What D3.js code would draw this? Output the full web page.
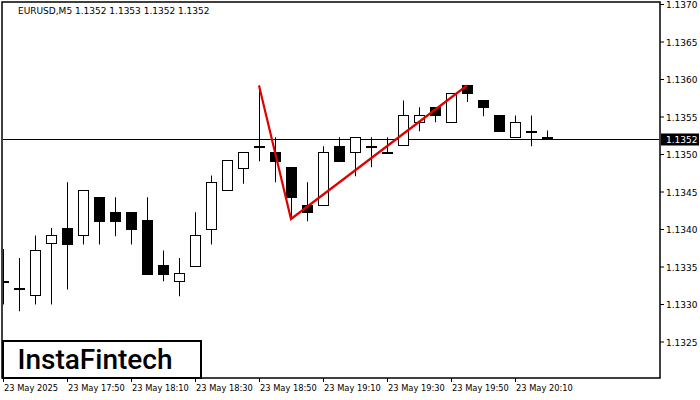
<!DOCTYPE html>
<html>
<head>
<script src="https://d3js.org/d3.v7.min.js"></script>
<style>body{margin:0;background:#fff}</style>
</head>
<body>
<svg id="c" width="700" height="400"></svg>
<script>
// candles: open, high, low, close (M5)
const opens  = [1.13331,1.13322,1.13312,1.13382,1.13402,1.13392,1.13443,1.13423,1.13423,1.13412,1.13352,1.13331,1.13351,1.13400,1.13452,1.13481,1.13511,1.13503,1.13483,1.13432,1.13432,1.13511,1.13503,1.13511,1.13503,1.13512,1.13543,1.13563,1.13543,1.13592,1.13572,1.13552,1.13523,1.13531,1.13523];
const highs  = [1.13374,1.13362,1.13392,1.13402,1.13463,1.13452,1.13443,1.13443,1.13423,1.13443,1.13372,1.13362,1.13423,1.13472,1.13492,1.13503,1.13592,1.13523,1.13483,1.13463,1.13511,1.13523,1.13523,1.13523,1.13523,1.13572,1.13563,1.13563,1.13582,1.13592,1.13572,1.13552,1.13552,1.13552,1.13532];
const lows   = [1.13300,1.13291,1.13300,1.13300,1.13320,1.13380,1.13380,1.13391,1.13380,1.13340,1.13331,1.13311,1.13351,1.13380,1.13452,1.13461,1.13491,1.13463,1.13414,1.13411,1.13432,1.13491,1.13471,1.13483,1.13503,1.13512,1.13531,1.13543,1.13543,1.13570,1.13551,1.13531,1.13523,1.13511,1.13523];
const closes = [1.13331,1.13322,1.13372,1.13392,1.13380,1.13452,1.13411,1.13411,1.13400,1.13340,1.13340,1.13342,1.13392,1.13463,1.13492,1.13503,1.13511,1.13491,1.13443,1.13423,1.13503,1.13491,1.13523,1.13511,1.13503,1.13552,1.13552,1.13552,1.13582,1.13582,1.13563,1.13531,1.13543,1.13531,1.13523];
const timeLabels = ["23 May 2025","23 May 17:50","23 May 18:10","23 May 18:30","23 May 18:50","23 May 19:10","23 May 19:30","23 May 19:50","23 May 20:10"];
const priceTicks = [1.1325,1.1330,1.1335,1.1340,1.1345,1.1350,1.1355,1.1360,1.1365,1.1370];
const lastPrice = 1.1352;
// pattern line: [candle index, price]
const patternIdx = [16, 18, 29];
const patternPx  = [1.13592, 1.13414, 1.13592];

const svg = d3.select("#c");
const font = "DejaVu Sans, Tahoma, sans-serif";
const L = 2, R = 660, T = 2, B = 378;
const x = d3.scaleLinear().domain([0, 34]).range([3, 547]);
const y = d3.scaleLinear().domain([1.1325, 1.1370]).range([342, 4.5]);

svg.append("rect").attr("x", L).attr("y", T).attr("width", R - L).attr("height", B - T)
  .attr("fill", "#fff").attr("stroke", "#000").attr("stroke-width", 1.5);

svg.append("defs").append("clipPath").attr("id", "cp")
  .append("rect").attr("x", L + 1).attr("y", T + 1).attr("width", R - L - 2).attr("height", B - T - 2);
const g = svg.append("g").attr("clip-path", "url(#cp)");

// last price line
const lpY = Math.round(y(lastPrice)) - 0.5;
g.append("line").attr("x1", L).attr("x2", R).attr("y1", lpY).attr("y2", lpY).attr("stroke", "#000");

const idx = d3.range(opens.length);
g.selectAll(".wick").data(idx).join("line")
  .attr("x1", i => x(i) + 0.5).attr("x2", i => x(i) + 0.5)
  .attr("y1", i => y(highs[i])).attr("y2", i => y(lows[i]))
  .attr("stroke", "#000");
g.selectAll(".body").data(idx).join("rect")
  .attr("x", i => x(i) - 5).attr("width", 10)
  .attr("y", i => y(Math.max(opens[i], closes[i])))
  .attr("height", i => Math.max(1, Math.abs(y(opens[i]) - y(closes[i]))))
  .attr("fill", i => closes[i] < opens[i] ? "#000" : "#fff")
  .attr("stroke", "#000").attr("stroke-width", 1)
  .attr("shape-rendering", "crispEdges");

// pattern line
g.append("path")
  .attr("d", d3.line()(patternIdx.map((k, j) => [x(k), y(patternPx[j])])))
  .attr("fill", "none").attr("stroke", "#e00000").attr("stroke-width", 2.2);

// price axis
priceTicks.forEach(p => {
  const yy = y(p);
  svg.append("line").attr("x1", R).attr("x2", R + 4).attr("y1", yy).attr("y2", yy).attr("stroke", "#000");
  svg.append("text").attr("x", R + 6).attr("y", yy + 3.5).text(p.toFixed(4))
    .attr("font-family", font).attr("font-size", 9).attr("fill", "#000");
});
svg.append("rect").attr("x", R + 1).attr("y", lpY - 6).attr("width", 38).attr("height", 12).attr("fill", "#000");
svg.append("text").attr("x", R + 6).attr("y", lpY + 3.5).text(lastPrice.toFixed(4))
  .attr("font-family", font).attr("font-size", 9).attr("fill", "#fff");

// time axis
timeLabels.forEach((t, k) => {
  const xx = x(k * 4);
  svg.append("line").attr("x1", xx + 0.5).attr("x2", xx + 0.5).attr("y1", B).attr("y2", B + 4).attr("stroke", "#000");
  svg.append("text").attr("x", Math.max(xx + 1, 4)).attr("y", B + 13).text(t)
    .attr("font-family", font).attr("font-size", 8.3).attr("fill", "#000");
});

// title
svg.append("text").attr("x", 18).attr("y", 14).text("EURUSD,M5  1.1352 1.1353 1.1352 1.1352")
  .attr("font-family", font).attr("font-size", 9).attr("fill", "#000");

// logo
svg.append("rect").attr("x", 3).attr("y", 341).attr("width", 198).attr("height", 37)
  .attr("fill", "#fff").attr("stroke", "#000").attr("stroke-width", 2);
svg.append("text").attr("x", 95).attr("y", 369).attr("text-anchor", "middle").text("InstaFintech")
  .attr("font-family", "Roboto, sans-serif").attr("font-weight", 500).attr("font-size", 28).attr("fill", "#000");
</script>
</body>
</html>
